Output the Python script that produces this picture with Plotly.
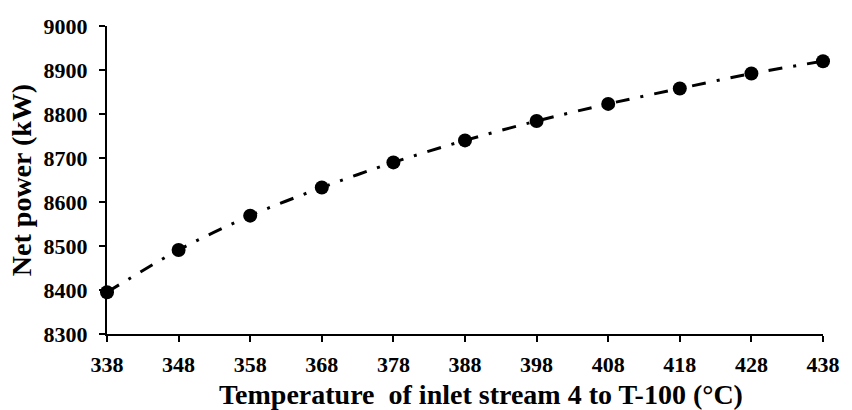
import plotly.graph_objects as go

# Inlet temperature of stream 4 to T-100 (°C) and resulting net power (kW)
temperature = [338, 348, 358, 368, 378, 388, 398, 408, 418, 428, 438]
net_power = [8395, 8491, 8569, 8633, 8690, 8740, 8784, 8823, 8858, 8892, 8920]

x_ticks = list(range(338, 439, 10))
y_ticks = list(range(8300, 9001, 100))

FONT = "Liberation Serif, Times New Roman, serif"
X_TITLE = "Temperature  of inlet stream 4 to T-100 (°C)"
Y_TITLE = "Net power (kW)"

fig = go.Figure()
fig.add_trace(go.Scatter(
    x=temperature,
    y=net_power,
    mode="lines+markers",
    line=dict(color="black", width=3, dash="14px,11px,3px,11px", shape="spline", smoothing=0.8),
    marker=dict(color="black", size=14, symbol="circle"),
    showlegend=False,
    cliponaxis=False,
))

axis_common = dict(
    showgrid=False,
    zeroline=False,
    showline=True,
    linecolor="black",
    linewidth=2,
    ticks="outside",
    ticklen=6,
    tickwidth=1.5,
    tickcolor="black",
    tickfont=dict(family=FONT, size=22, color="black", weight="bold"),
)

fig.update_xaxes(
    range=[338, 438],
    tickvals=x_ticks,
    ticktext=[str(v) for v in x_ticks],
    ticklabelstandoff=4,
    **axis_common,
)
fig.update_yaxes(
    range=[8300, 9000],
    tickvals=y_ticks,
    ticktext=[str(v) for v in y_ticks],
    ticklabelstandoff=7,
    title=dict(text=Y_TITLE,
               font=dict(family=FONT, size=28, color="black", weight="bold"),
               standoff=4),
    **axis_common,
)

# x-axis title placed as an annotation below the tick labels
fig.add_annotation(
    text=X_TITLE,
    xref="paper", yref="paper",
    x=0.522, y=-0.195,
    xanchor="center", yanchor="middle",
    showarrow=False,
    font=dict(family=FONT, size=28, color="black", weight="bold"),
)

fig.update_layout(
    width=852,
    height=410,
    margin=dict(l=107, r=18, t=26, b=76),
    paper_bgcolor="white",
    plot_bgcolor="white",
)

fig.write_html("out.html")
